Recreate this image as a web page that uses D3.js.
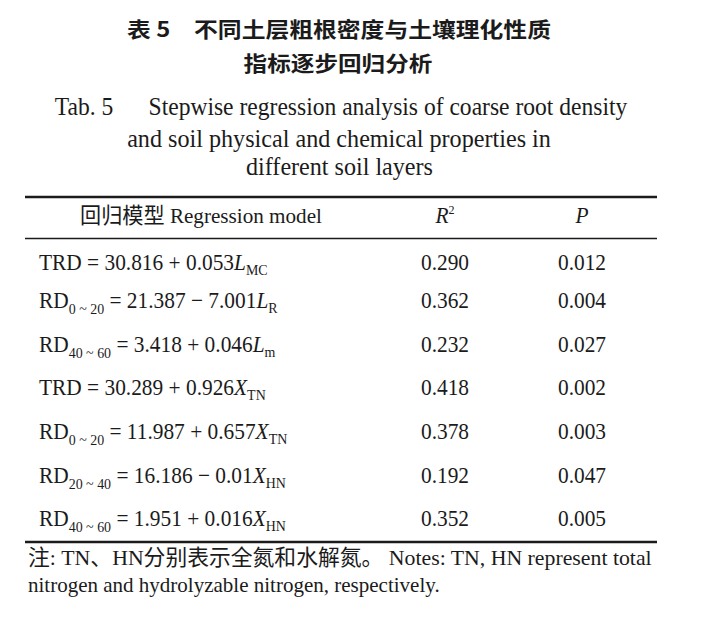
<!DOCTYPE html>
<html>
<head>
<meta charset="utf-8">
<script src="https://cdn.jsdelivr.net/npm/d3@7"></script>
<style>
  body { margin: 0; background: #fff; }
  text { white-space: pre; }
</style>
</head>
<body>
<div id="table"></div>
<script>
const width = 726,
    height = 625

// table content
const titleZh = ['表 5\u2003不同土层粗根密度与土壤理化性质', '指标逐步回归分析']
const titleEn = ['Tab. 5\u2003\u2002Stepwise regression analysis of coarse root density',
  'and soil physical and chemical properties in', 'different soil layers']
const responses = ['TRD', 'RD', 'RD', 'TRD', 'RD', 'RD', 'RD']
const layers = ['', '0 ~ 20', '40 ~ 60', '', '0 ~ 20', '20 ~ 40', '40 ~ 60']
const intercepts = [30.816, 21.387, 3.418, 30.289, 11.987, 16.186, 1.951]
const slopes = [0.053, -7.001, 0.046, 0.926, 0.657, -0.01, 0.016]
const predictors = ['L', 'L', 'L', 'X', 'X', 'X', 'X']
const predictorSubs = ['MC', 'R', 'm', 'TN', 'TN', 'HN', 'HN']
const r2 = [0.290, 0.362, 0.232, 0.418, 0.378, 0.192, 0.352]
const pValues = [0.012, 0.004, 0.027, 0.002, 0.003, 0.047, 0.005]
const notes = ['注: TN、HN分别表示全氮和水解氮。 Notes: TN, HN represent total',
  'nitrogen and hydrolyzable nitrogen, respectively.']

const ink = '#1b1b1b'
const serif = '"Liberation Serif", "Times New Roman", "Noto Sans CJK SC", serif'
const sx = 0.93   // the source print is a bit squeezed sideways

const svg = d3.select('#table')
  .append('svg')
    .attr('width', width)
    .attr('height', height)
    .attr('viewBox', `0 0 ${width} ${height}`)

svg.append('rect').attr('width', width).attr('height', height).attr('fill', '#fff')

// squeeze a text to a wanted width, anchored at cx
function fit(sel, cx, y, w) {
  const bw = sel.node().getBBox().width
  sel.attr('transform', `translate(${cx},${y}) scale(${w / bw},1)`)
}

// titles
const zhLines = [[339, 37, 424], [338, 71, 189]]
titleZh.forEach(function(t, i) {
  const el = svg.append('text')
    .text(t)
    .attr('text-anchor', 'middle')
    .style('font-family', '"Noto Sans CJK SC", sans-serif')
    .style('font-weight', 'bold')
    .style('font-size', '21px')
    .style('fill', ink)
  fit(el, zhLines[i][0], zhLines[i][1], zhLines[i][2])
})

const enLines = [[341, 115, 573], [339, 147, 424], [339.5, 175, 187]]
titleEn.forEach(function(t, i) {
  const el = svg.append('text')
    .text(t)
    .attr('text-anchor', 'middle')
    .style('font-family', serif)
    .style('font-size', '26px')
    .style('fill', ink)
  fit(el, enLines[i][0], enLines[i][1], enLines[i][2])
})

// rules
const left = 25, right = 657
const rules = [[197, 2.4], [238.5, 1.6], [542, 2.4]]
svg.selectAll('line.rule')
  .data(rules)
  .join('line')
    .attr('class', 'rule')
    .attr('x1', left).attr('x2', right)
    .attr('y1', d => d[0]).attr('y2', d => d[0])
    .attr('stroke', ink)
    .attr('stroke-width', d => d[1])

// header
const colR2 = 445, colP = 582
const head = svg.append('text')
  .text('回归模型 Regression model')
  .attr('text-anchor', 'middle')
  .style('font-family', serif)
  .style('font-size', '22px')
  .style('fill', ink)
fit(head, 201, 223, 242)

const hR = svg.append('text')
  .attr('transform', `translate(${colR2},223) scale(${sx},1)`)
  .attr('text-anchor', 'middle')
  .style('font-family', serif)
  .style('font-size', '23px')
  .style('fill', ink)
hR.append('tspan').text('R').style('font-style', 'italic')
hR.append('tspan').text('2').attr('dy', -9).style('font-size', '13px')

svg.append('text')
  .text('P')
  .attr('transform', `translate(${colP},223) scale(${sx},1)`)
  .attr('text-anchor', 'middle')
  .style('font-family', serif)
  .style('font-size', '23px')
  .style('font-style', 'italic')
  .style('fill', ink)

// rows
const rowBase = [270, 308, 352, 395, 439, 483, 526]
const idx = d3.range(responses.length)

const rows = svg.selectAll('g.row')
  .data(idx)
  .join('g')
    .attr('class', 'row')
    .style('font-family', serif)
    .style('font-size', '23px')
    .style('fill', ink)

const eq = rows.append('text')
  .attr('transform', i => `translate(39,${rowBase[i]}) scale(${sx},1)`)

eq.append('tspan').text(i => responses[i])
eq.append('tspan')
  .text(i => layers[i])
  .attr('dy', i => layers[i] ? 6 : 0)
  .style('font-size', '15px')
eq.append('tspan')
  .text(i => ' = ' + intercepts[i] + (slopes[i] < 0 ? ' \u2212 ' : ' + ') + Math.abs(slopes[i]))
  .attr('dy', i => layers[i] ? -6 : 0)
eq.append('tspan')
  .text(i => predictors[i])
  .style('font-style', 'italic')
eq.append('tspan')
  .text(i => predictorSubs[i])
  .attr('dy', 5)
  .style('font-size', '15px')

rows.append('text')
  .text(i => r2[i].toFixed(3))
  .attr('text-anchor', 'middle')
  .attr('transform', i => `translate(${colR2},${rowBase[i]}) scale(${sx},1)`)

rows.append('text')
  .text(i => pValues[i].toFixed(3))
  .attr('text-anchor', 'middle')
  .attr('transform', i => `translate(${colP},${rowBase[i]}) scale(${sx},1)`)

// notes
const noteLines = [[565, 624], [592, 412]]
notes.forEach(function(t, i) {
  const el = svg.append('text')
    .text(t)
    .style('font-family', serif)
    .style('font-size', '22px')
    .style('fill', ink)
  const bw = el.node().getBBox().width
  el.attr('transform', `translate(28,${noteLines[i][0]}) scale(${noteLines[i][1] / bw},1)`)
})
</script>
</body>
</html>
